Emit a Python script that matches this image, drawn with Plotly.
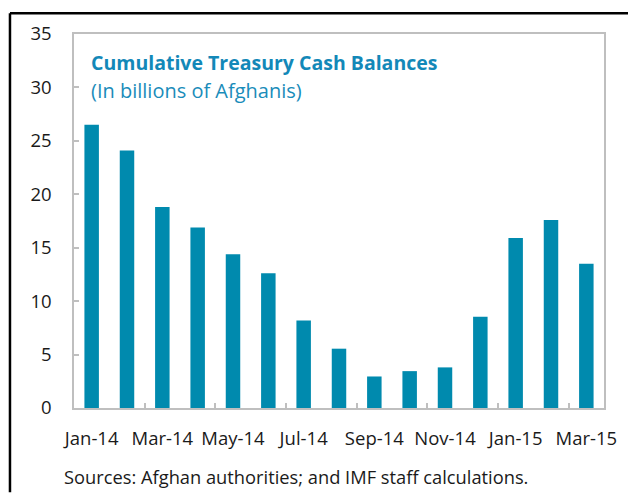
import plotly.graph_objects as go

months = ["Jan-14", "Feb-14", "Mar-14", "Apr-14", "May-14", "Jun-14", "Jul-14",
          "Aug-14", "Sep-14", "Oct-14", "Nov-14", "Dec-14", "Jan-15", "Feb-15", "Mar-15"]
balances = [26.5, 24.1, 18.8, 16.9, 14.4, 12.6, 8.2, 5.55, 2.95, 3.45, 3.8, 8.55, 15.9, 17.6, 13.5]
y_ticks = [0, 5, 10, 15, 20, 25, 30, 35]

idx = list(range(len(months)))
bar_color = "#008AAE"
font_family = "Open Sans, Noto Sans, sans-serif"

fig = go.Figure(go.Bar(x=idx, y=balances, marker=dict(color=bar_color, line=dict(width=0)),
                       width=0.41, hoverinfo="x+y"))

fig.update_layout(
    width=628, height=485,
    margin=dict(l=66, r=32, t=25.5, b=84.5),
    paper_bgcolor="white", plot_bgcolor="white",
    showlegend=False,
    font=dict(family=font_family, color="#1a1a1a", size=15),
    xaxis=dict(
        range=[-0.5, len(months) - 0.5],
        tickmode="array", tickvals=idx[::2], ticktext=months[::2],
        ticks="", showgrid=False, zeroline=False,
        showline=True, mirror=True, linecolor="#BFBFBF", linewidth=1.5,
        ticklabelstandoff=13,
        tickfont=dict(size=18.5, color="#1a1a1a"),
        minor=dict(tickmode="array", tickvals=[i + 0.5 for i in idx[1:-1:2]],
                   ticks="inside", ticklen=5, tickcolor="#BFBFBF", tickwidth=1.5, showgrid=False),
    ),
    yaxis=dict(
        range=[0, 35], tickmode="array", tickvals=y_ticks,
        ticks="inside", ticklen=5, tickcolor="#BFBFBF", tickwidth=1.5,
        showgrid=False, zeroline=False,
        showline=True, mirror=True, linecolor="#BFBFBF", linewidth=1.5,
        ticklabelstandoff=17,
        tickfont=dict(size=18.5, color="#1a1a1a"),
    ),
    annotations=[
        dict(text="<b>Cumulative Treasury Cash Balances</b>", xref="paper", yref="paper",
             x=0.028, y=0.924, xanchor="left", yanchor="middle", showarrow=False,
             font=dict(size=19.5, color="#1388B8", family=font_family)),
        dict(text="(In billions of Afghanis)", xref="paper", yref="paper",
             x=0.028, y=0.849, xanchor="left", yanchor="middle", showarrow=False,
             font=dict(size=20, color="#1A8CBA", family=font_family)),
        dict(text="Sources: Afghan authorities; and IMF staff calculations.", xref="paper", yref="paper",
             x=-0.0226, y=-0.183, xanchor="left", yanchor="middle", showarrow=False,
             font=dict(size=18.3, color="#1a1a1a", family=font_family)),
    ],
    shapes=[
        dict(type="line", xref="paper", yref="paper", x0=-0.1208, x1=1.06, y0=1.0555, y1=1.0555,
             line=dict(color="black", width=2.5)),
        dict(type="line", xref="paper", yref="paper", x0=-0.1208, x1=-0.1208, y0=1.0555, y1=-0.225,
             line=dict(color="black", width=2.5)),
    ],
)

fig.write_html("out.html")
